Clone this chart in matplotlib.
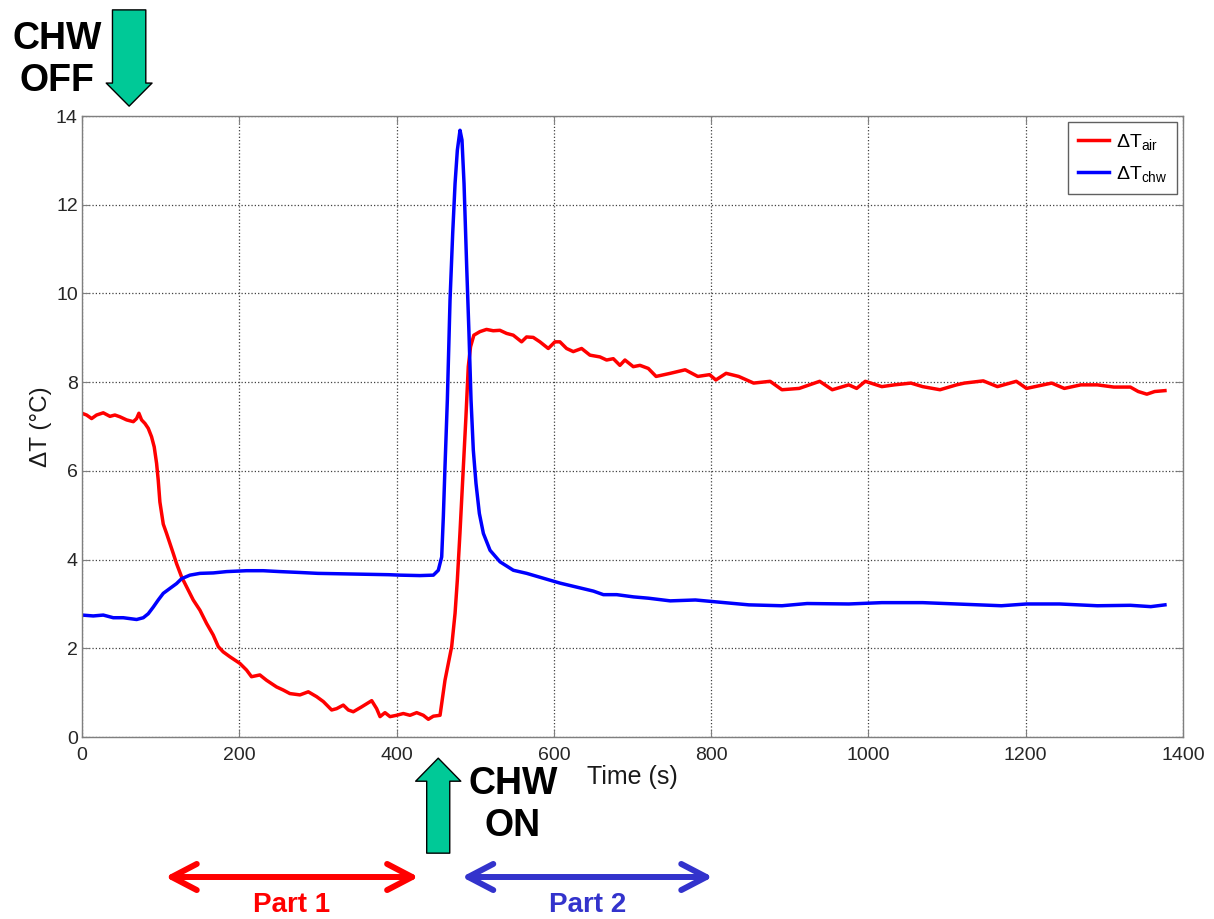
import numpy as np
import matplotlib
matplotlib.use('Agg')
import matplotlib.pyplot as plt
import matplotlib.transforms as mtransforms

plt.rcParams['font.family'] = ['Liberation Sans', 'DejaVu Sans']
plt.rcParams['mathtext.fontset'] = 'custom'
plt.rcParams['mathtext.rm'] = 'Liberation Sans'
plt.rcParams['mathtext.it'] = 'Liberation Sans:italic'

# Air-side temperature difference (time in s, dT in degC)
t_air = [0, 5.9, 12.3, 18.6, 27.1, 35.6, 41.9, 48.3, 56.8, 65.3, 69.5, 72.4, 75.8,
         80.1, 84.3, 88.5, 91.9, 94.9, 97.0, 99.1, 103.4, 107.6, 111.8, 116.1, 120.3,
         126.7, 133.0, 141.5, 150.0, 158.5, 166.9, 173.3, 179.6, 188.1, 200.8, 209.3,
         215.6, 226.2, 234.7, 247.4, 255.9, 264.4, 277.2, 287.8, 298.4, 306.9, 317.5,
         323.8, 332.3, 338.7, 345.0, 355.6, 368.4, 374.7, 379.0, 385.3, 391.7, 400.1,
         408.6, 417.1, 425.6, 434.1, 440.4, 446.8, 455.3, 461.6, 465.9, 470.1, 474.4,
         477.3, 480.6, 484.9, 488.2, 491.2, 494.1, 498.3, 506.0, 514.4, 522.9, 531.4,
         539.9, 548.4, 559.0, 565.3, 573.8, 582.3, 592.9, 601.4, 607.7, 616.2, 624.7,
         635.3, 645.9, 658.6, 667.1, 675.6, 684.0, 690.4, 701.0, 709.5, 720.1, 730,
         748, 767, 783, 798, 806, 819, 835, 854, 875, 890, 912, 938, 954, 975, 985,
         996, 1017, 1033, 1054, 1069, 1091, 1112, 1122, 1146, 1164, 1188, 1201, 1233,
         1249, 1270, 1291, 1312, 1333, 1343, 1354, 1364, 1377]
dT_air = [7.30, 7.26, 7.18, 7.26, 7.31, 7.23, 7.26, 7.22, 7.15, 7.11, 7.18, 7.30, 7.15,
          7.07, 6.96, 6.77, 6.54, 6.17, 5.79, 5.30, 4.80, 4.59, 4.37, 4.14, 3.91,
          3.61, 3.39, 3.09, 2.86, 2.56, 2.30, 2.04, 1.92, 1.81, 1.66, 1.51,
          1.36, 1.40, 1.28, 1.13, 1.06, 0.98, 0.95, 1.02, 0.91, 0.80, 0.61,
          0.64, 0.72, 0.61, 0.57, 0.68, 0.82, 0.64, 0.46, 0.55, 0.46, 0.49,
          0.53, 0.49, 0.55, 0.49, 0.40, 0.47, 0.49, 1.28, 1.66, 2.04, 2.79,
          3.54, 4.59, 6.09, 7.21, 8.35, 8.80, 9.06, 9.14, 9.19, 9.16, 9.17,
          9.10, 9.06, 8.91, 9.02, 9.01, 8.91, 8.76, 8.91, 8.91, 8.76, 8.69,
          8.76, 8.61, 8.57, 8.50, 8.53, 8.38, 8.50, 8.35, 8.38, 8.31, 8.13,
          8.20, 8.28, 8.13, 8.17, 8.05, 8.20, 8.13, 7.98, 8.02, 7.83, 7.86, 8.02, 7.83, 7.94, 7.86,
          8.02, 7.90, 7.94, 7.98, 7.90, 7.83, 7.94, 7.98, 8.03, 7.90, 8.02, 7.86, 7.98,
          7.86, 7.94, 7.94, 7.89, 7.89, 7.79, 7.73, 7.79, 7.81]

# Chilled-water-side temperature difference
t_chw = [0, 14.4, 27.1, 39.8, 52.5, 61.0, 69.5, 78.0, 84.3, 90.7, 97.0, 103.4, 111.8,
         120.3, 126.7, 137.3, 150.0, 167.0, 184.0, 209.3, 230.5, 251.7, 277.1, 300,
         330, 360, 390, 404.4, 429.8, 446.8, 453.1, 457.4, 459.5, 461.6, 464.6, 468.0,
         471.4, 474.4, 477.3, 480.7, 483.2, 485.8, 489.2, 492.1, 494.7, 497.6, 501.0,
         505.3, 510.4, 518.9, 531.6, 548.5, 565.5, 586.7, 607.9, 629.1, 650.3, 663.0,
         680.0, 701.2, 720.3, 748, 780, 817, 848, 890, 922, 975, 1017, 1069, 1112,
         1169, 1201, 1243, 1291, 1333, 1359, 1377]
dT_chw = [2.75, 2.73, 2.75, 2.69, 2.69, 2.67, 2.65, 2.69, 2.78, 2.93, 3.09, 3.24, 3.35,
          3.46, 3.57, 3.65, 3.69, 3.70, 3.73, 3.75, 3.75, 3.73, 3.71, 3.69,
          3.68, 3.67, 3.66, 3.65, 3.64, 3.65, 3.76, 4.06, 4.97, 6.09, 7.60, 9.85,
          11.36, 12.48, 13.23, 13.68, 13.46, 12.48, 10.60, 9.10, 7.60, 6.47, 5.72,
          5.04, 4.59, 4.21, 3.95, 3.76, 3.69, 3.58, 3.47, 3.38, 3.29, 3.21,
          3.21, 3.16, 3.13, 3.07, 3.09, 3.03, 2.98, 2.96, 3.01, 3.00, 3.03, 3.03, 3.00,
          2.96, 3.00, 3.00, 2.96, 2.97, 2.94, 2.98]

x_ticks = [0, 200, 400, 600, 800, 1000, 1200, 1400]
y_ticks = [0, 2, 4, 6, 8, 10, 12, 14]

# event times and the two test phases
chw_off_t = 60
chw_on_t = 453
part1 = (106, 428)
part2 = (483, 802)

green = '#00c997'

fig = plt.figure(figsize=(12.14, 9.19), dpi=100)
ax = fig.add_axes([0.0675, 0.198, 0.907, 0.6757])

ax.plot(t_air, dT_air, color='#ff0000', lw=2.5, label=r'ΔT$_{\mathrm{air}}$')
ax.plot(t_chw, dT_chw, color='#0000ff', lw=2.5, label=r'ΔT$_{\mathrm{chw}}$')

ax.set_xlim(0, 1400)
ax.set_ylim(0, 14)
ax.set_xticks(x_ticks)
ax.set_yticks(y_ticks)
ax.tick_params(direction='in', top=True, right=True, length=5, width=0.8,
               color='#7f7f7f', labelcolor='#262626', labelsize=14)
ax.tick_params(axis='x', pad=7)
ax.tick_params(axis='y', pad=3)
for s in ax.spines.values():
    s.set_color('#7f7f7f')
    s.set_linewidth(1.0)
ax.grid(True, linestyle=':', color='#404040', linewidth=0.9)
ax.set_xlabel('Time (s)', fontsize=18, color='#1a1a1a', labelpad=1)
ax.set_ylabel('ΔT (°C)', fontsize=17.5, color='#1a1a1a', labelpad=3)

leg = ax.legend(loc='upper right', fontsize=14, fancybox=False, framealpha=1,
                edgecolor='#606060', handlelength=1.6, borderaxespad=0.3,
                labelspacing=0.65, handletextpad=0.35, borderpad=0.5)
leg.get_frame().set_linewidth(1.0)

# x in data units, y in axes fraction for the annotations around the plot
trans = mtransforms.blended_transform_factory(ax.transData, ax.transAxes)

block = 'simple,head_length={},head_width={},tail_width={}'
ax.annotate('', xy=(chw_off_t, 1.016), xytext=(chw_off_t, 1.171),
            xycoords=trans, textcoords=trans, annotation_clip=False,
            arrowprops=dict(arrowstyle=block.format(1.66, 3.3, 2.4), mutation_scale=10,
                            fc=green, ec='black', lw=1, shrinkA=0, shrinkB=0))
ax.annotate('', xy=(chw_on_t, -0.034), xytext=(chw_on_t, -0.187),
            xycoords=trans, textcoords=trans, annotation_clip=False,
            arrowprops=dict(arrowstyle=block.format(1.66, 3.25, 1.66), mutation_scale=10,
                            fc=green, ec='black', lw=1, shrinkA=0, shrinkB=0))

ax.text(-32, 1.090, 'CHW\nOFF', transform=trans, ha='center', va='center',
        fontsize=27, fontweight='bold', linespacing=1.2, clip_on=False)
ax.text(548, -0.1095, 'CHW\nON', transform=trans, ha='center', va='center',
        fontsize=27, fontweight='bold', linespacing=1.2, clip_on=False)

dbl = '<->,head_length=0.9,head_width=0.47'
for (a, b), col, name in [(part1, '#ff0000', 'Part 1'), (part2, '#3333cc', 'Part 2')]:
    ax.annotate('', xy=(b, -0.2254), xytext=(a, -0.2254),
                xycoords=trans, textcoords=trans, annotation_clip=False,
                arrowprops=dict(arrowstyle=dbl, mutation_scale=20, color=col, lw=4.3,
                                shrinkA=0, shrinkB=0, capstyle='round', joinstyle='round'))
    ax.text((a + b) / 2, -0.2705, name, transform=trans, ha='center', va='center',
            fontsize=20, fontweight='bold', color=col, clip_on=False)

fig.savefig('out.png', dpi=100)
